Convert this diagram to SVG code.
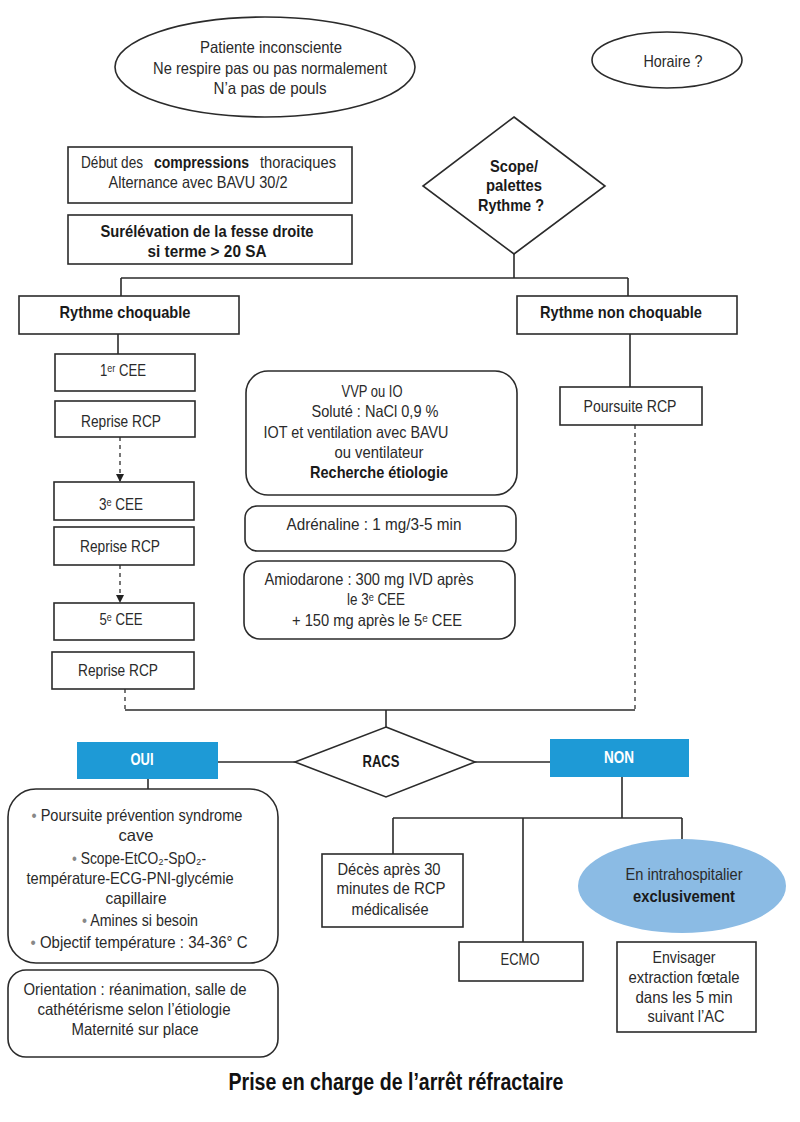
<svg xmlns="http://www.w3.org/2000/svg" width="800" height="1122" viewBox="0 0 800 1122">
<defs>
<style>
.s{fill:none;stroke:#2b2b2b;stroke-width:1.6}
.b{fill:#fff;stroke:#2b2b2b;stroke-width:1.6}
.d{fill:none;stroke:#555;stroke-width:1.6;stroke-dasharray:4 4}
.t{font-family:"Liberation Sans",Arial,"DejaVu Sans",sans-serif;font-size:16.5px;fill:#2a2a2a;text-anchor:middle}
.st{text-anchor:start}
.bo{font-weight:bold;fill:#1a1a1a}
.w{fill:#fff;font-weight:bold}
.blue{fill:#1e9ad6;stroke:none}
.bul{fill:#888}
</style>
<marker id="ah" markerWidth="8" markerHeight="8" refX="7" refY="4" orient="auto" markerUnits="userSpaceOnUse">
<path d="M0,0 L8,4 L0,8 Z" fill="#222"/>
</marker>
</defs>
<rect width="800" height="1122" fill="#fff"/>

<g id="connectors">
<path class="s" d="M514,254 V278 M121,278 H628 M121,278 V297 M628,278 V297"/>
<path class="s" d="M118,334 V354"/>
<path class="s" d="M630,334 V387"/>
<path class="d" d="M120,437 V481" marker-end="url(#ah)"/>
<path class="d" d="M120,565 V602" marker-end="url(#ah)"/>
<path class="d" d="M125,689 V710"/>
<path class="d" d="M635,425 V710"/>
<path class="s" d="M125,710 H635 M386,710 V727"/>
<path class="s" d="M218,762 H295 M475,762 H550"/>
<path class="s" d="M148,779 V790"/>
<path class="s" d="M622,777 V818 M393,818 H682 M393,818 V854 M523,818 V942 M682,818 V840"/>
</g>

<g id="n-start">
<ellipse class="b" cx="265" cy="67" rx="150" ry="50"/>
<text class="t" x="271" y="53" textLength="142" lengthAdjust="spacingAndGlyphs">Patiente inconsciente</text>
<text class="t" x="270" y="74" textLength="234" lengthAdjust="spacingAndGlyphs">Ne respire pas ou pas normalement</text>
<text class="t" x="270" y="94" textLength="113" lengthAdjust="spacingAndGlyphs">N’a pas de pouls</text>
</g>

<g id="n-horaire">
<ellipse class="b" cx="667" cy="60" rx="75" ry="28"/>
<text class="t" x="673" y="67" textLength="59" lengthAdjust="spacingAndGlyphs">Horaire ?</text>
</g>

<g id="n-compressions">
<rect class="b" x="68" y="147" width="284" height="56"/>
<text class="t st" x="81" y="168" textLength="62" lengthAdjust="spacingAndGlyphs">Début des</text>
<text class="t st bo" x="154" y="168" textLength="95" lengthAdjust="spacingAndGlyphs">compressions</text>
<text class="t st" x="260" y="168" textLength="76" lengthAdjust="spacingAndGlyphs">thoraciques</text>
<text class="t" x="198" y="188" textLength="179" lengthAdjust="spacingAndGlyphs">Alternance avec BAVU 30/2</text>
</g>

<g id="n-surelevation">
<rect class="b" x="68" y="215" width="284" height="49"/>
<text class="t bo" x="207" y="237" textLength="213" lengthAdjust="spacingAndGlyphs">Surélévation de la fesse droite</text>
<text class="t bo" x="207" y="257" textLength="119" lengthAdjust="spacingAndGlyphs">si terme &gt; 20 SA</text>
</g>

<g id="n-scope">
<polygon class="b" points="514,117 605,186 514,254 423,186"/>
<text class="t bo" x="514" y="172" textLength="48" lengthAdjust="spacingAndGlyphs">Scope/</text>
<text class="t bo" x="514" y="191" textLength="56" lengthAdjust="spacingAndGlyphs">palettes</text>
<text class="t bo" x="511" y="211" textLength="66" lengthAdjust="spacingAndGlyphs">Rythme ?</text>
</g>

<g id="n-choquable">
<rect class="b" x="19" y="296" width="220" height="38"/>
<text class="t bo" x="125" y="318" textLength="131" lengthAdjust="spacingAndGlyphs">Rythme choquable</text>
</g>

<g id="n-nonchoquable">
<rect class="b" x="517" y="296" width="220" height="38"/>
<text class="t bo" x="621" y="318" textLength="162" lengthAdjust="spacingAndGlyphs">Rythme non choquable</text>
</g>

<g id="n-cee1">
<rect class="b" x="55" y="354" width="140" height="37"/>
<text class="t" x="123" y="376" textLength="46" lengthAdjust="spacingAndGlyphs">1ᵉʳ CEE</text>
</g>
<g id="n-rcp1">
<rect class="b" x="55" y="401" width="140" height="36"/>
<text class="t" x="121" y="427" textLength="80" lengthAdjust="spacingAndGlyphs">Reprise RCP</text>
</g>
<g id="n-cee3">
<rect class="b" x="54" y="482" width="140" height="38"/>
<text class="t" x="121" y="510" textLength="44" lengthAdjust="spacingAndGlyphs">3ᵉ CEE</text>
</g>
<g id="n-rcp2">
<rect class="b" x="54" y="527" width="140" height="38"/>
<text class="t" x="120" y="552" textLength="80" lengthAdjust="spacingAndGlyphs">Reprise RCP</text>
</g>
<g id="n-cee5">
<rect class="b" x="54" y="603" width="140" height="37"/>
<text class="t" x="121" y="625" textLength="43" lengthAdjust="spacingAndGlyphs">5ᵉ CEE</text>
</g>
<g id="n-rcp3">
<rect class="b" x="52" y="652" width="142" height="37"/>
<text class="t" x="118" y="676" textLength="80" lengthAdjust="spacingAndGlyphs">Reprise RCP</text>
</g>

<g id="n-poursuite">
<rect class="b" x="560" y="387" width="142" height="38"/>
<text class="t" x="630" y="412" textLength="93" lengthAdjust="spacingAndGlyphs">Poursuite RCP</text>
</g>

<g id="n-vvp">
<rect class="b" x="246" y="371" width="271" height="124" rx="22"/>
<text class="t" x="372" y="397" textLength="61" lengthAdjust="spacingAndGlyphs">VVP ou IO</text>
<text class="t" x="375" y="417" textLength="127" lengthAdjust="spacingAndGlyphs">Soluté : NaCl 0,9 %</text>
<text class="t" x="356" y="438" textLength="185" lengthAdjust="spacingAndGlyphs">IOT et ventilation avec BAVU</text>
<text class="t" x="379" y="458" textLength="89" lengthAdjust="spacingAndGlyphs">ou ventilateur</text>
<text class="t bo" x="379" y="478" textLength="138" lengthAdjust="spacingAndGlyphs">Recherche étiologie</text>
</g>

<g id="n-adrenaline">
<rect class="b" x="245" y="506" width="271" height="45" rx="12"/>
<text class="t" x="374" y="530" textLength="175" lengthAdjust="spacingAndGlyphs">Adrénaline : 1 mg/3-5 min</text>
</g>

<g id="n-amiodarone">
<rect class="b" x="244" y="561" width="271" height="78" rx="16"/>
<text class="t" x="369" y="585" textLength="209" lengthAdjust="spacingAndGlyphs">Amiodarone : 300 mg IVD après</text>
<text class="t" x="376" y="605" textLength="58" lengthAdjust="spacingAndGlyphs">le 3ᵉ CEE</text>
<text class="t" x="377" y="626" textLength="170" lengthAdjust="spacingAndGlyphs">+ 150 mg après le 5ᵉ CEE</text>
</g>

<g id="n-racs">
<polygon class="b" points="386,727 475,762 386,797 295,762"/>
<text class="t bo" x="381" y="767" textLength="37" lengthAdjust="spacingAndGlyphs">RACS</text>
</g>

<g id="n-oui">
<rect class="blue" x="77" y="742" width="141" height="37"/>
<text class="t w" x="142" y="765" textLength="23" lengthAdjust="spacingAndGlyphs">OUI</text>
</g>

<g id="n-non">
<rect class="blue" x="550" y="739" width="139" height="38"/>
<text class="t w" x="619" y="763" textLength="30" lengthAdjust="spacingAndGlyphs">NON</text>
</g>

<g id="n-postracs">
<rect class="b" x="8" y="789" width="270" height="174" rx="28"/>
<text class="t" x="137" y="821" textLength="211" lengthAdjust="spacingAndGlyphs"><tspan class="bul">•</tspan> Poursuite prévention syndrome</text>
<text class="t" x="136" y="841" textLength="35" lengthAdjust="spacingAndGlyphs">cave</text>
<text class="t" x="139" y="864" textLength="134" lengthAdjust="spacingAndGlyphs"><tspan class="bul">•</tspan> Scope-EtCO₂-SpO₂-</text>
<text class="t" x="130" y="884" textLength="207" lengthAdjust="spacingAndGlyphs">température-ECG-PNI-glycémie</text>
<text class="t" x="136" y="904" textLength="61" lengthAdjust="spacingAndGlyphs">capillaire</text>
<text class="t" x="140" y="926" textLength="116" lengthAdjust="spacingAndGlyphs"><tspan class="bul">•</tspan> Amines si besoin</text>
<text class="t" x="139" y="948" textLength="217" lengthAdjust="spacingAndGlyphs"><tspan class="bul">•</tspan> Objectif température : 34-36° C</text>
</g>

<g id="n-orientation">
<rect class="b" x="8" y="970" width="270" height="87" rx="18"/>
<text class="t" x="135" y="995" textLength="223" lengthAdjust="spacingAndGlyphs">Orientation : réanimation, salle de</text>
<text class="t" x="134" y="1015" textLength="193" lengthAdjust="spacingAndGlyphs">cathétérisme selon l’étiologie</text>
<text class="t" x="135" y="1035" textLength="127" lengthAdjust="spacingAndGlyphs">Maternité sur place</text>
</g>

<g id="n-deces">
<rect class="b" x="322" y="854" width="141" height="73"/>
<text class="t" x="389" y="875" textLength="103" lengthAdjust="spacingAndGlyphs">Décès après 30</text>
<text class="t" x="391" y="894" textLength="109" lengthAdjust="spacingAndGlyphs">minutes de RCP</text>
<text class="t" x="390" y="915" textLength="77" lengthAdjust="spacingAndGlyphs">médicalisée</text>
</g>

<g id="n-intra">
<ellipse cx="682" cy="886" rx="104" ry="47" fill="#8bbbe4"/>
<text class="t" x="684" y="880" textLength="117" lengthAdjust="spacingAndGlyphs">En intrahospitalier</text>
<text class="t bo" x="684" y="902" textLength="102" lengthAdjust="spacingAndGlyphs">exclusivement</text>
</g>

<g id="n-ecmo">
<rect class="b" x="459" y="942" width="124" height="39"/>
<text class="t" x="520" y="965" textLength="39" lengthAdjust="spacingAndGlyphs">ECMO</text>
</g>

<g id="n-extraction">
<rect class="b" x="617" y="942" width="139" height="90"/>
<text class="t" x="684" y="963" textLength="63" lengthAdjust="spacingAndGlyphs">Envisager</text>
<text class="t" x="684" y="983" textLength="111" lengthAdjust="spacingAndGlyphs">extraction fœtale</text>
<text class="t" x="684" y="1003" textLength="97" lengthAdjust="spacingAndGlyphs">dans les 5 min</text>
<text class="t" x="686" y="1022" textLength="77" lengthAdjust="spacingAndGlyphs">suivant l’AC</text>
</g>

<text class="t bo" x="396" y="1090" style="font-size:23px;fill:#111" textLength="335" lengthAdjust="spacingAndGlyphs">Prise en charge de l’arrêt réfractaire</text>
</svg>
